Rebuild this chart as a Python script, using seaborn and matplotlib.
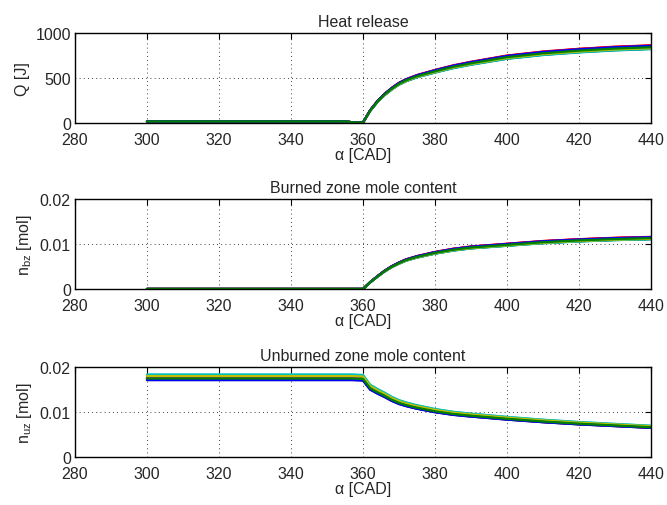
import numpy as np
import pandas as pd
import seaborn as sns
import matplotlib
matplotlib.use('Agg')
import matplotlib.pyplot as plt

# crank angle grid (CAD) and base curves
alpha = [300, 310, 320, 330, 340, 350, 355, 357, 360, 362, 364, 366, 368, 370,
         372, 375, 380, 385, 390, 400, 410, 420, 430, 440]
Q_base = [18, 18, 18, 18, 18, 18, 18, 8, 5, 140, 240, 320, 385, 440,
          480, 525, 580, 630, 670, 738, 782, 812, 835, 850]
nbz_base = [0, 0, 0, 0, 0, 0, 0, 0, 0, 0.0015, 0.0028, 0.0040, 0.0050, 0.0058,
            0.0065, 0.0072, 0.0081, 0.0088, 0.0093, 0.0099, 0.0105, 0.0109, 0.0112, 0.0114]
nuz_base = [0.0177, 0.0177, 0.0177, 0.0177, 0.0177, 0.0177, 0.0177, 0.0177, 0.0176,
            0.0155, 0.0146, 0.0138, 0.0129, 0.0122, 0.0117, 0.0111, 0.0103, 0.0097,
            0.0093, 0.0086, 0.0080, 0.0075, 0.0071, 0.0067]

# per-run spread (16 runs, MATLAB colour order)
q_scale = [0.99, 0.975, 1.015, 0.965, 1.01, 0.985, 0.97, 1.0, 0.98, 1.012,
           0.968, 0.995, 0.978, 1.003, 1.008, 0.99]
nbz_scale = [0.99, 0.975, 1.015, 0.97, 1.01, 0.985, 0.972, 1.0, 0.98, 1.012,
             0.968, 0.995, 0.978, 1.003, 1.008, 0.99]
nuz_scale = [0.985, 1.0, 0.97, 1.035, 0.975, 1.02, 0.965, 0.995, 1.01, 0.98,
             1.03, 0.99, 1.015, 0.975, 0.965, 0.985]

colors = ['#0000FF', '#008000', '#FF0000', '#00BFBF', '#BF00BF', '#BFBF00', '#404040']
runs = len(q_scale)
pal = [colors[i % 7] for i in range(runs)]

def long_df(base, scale):
    rows = []
    for r in range(runs):
        for a, v in zip(alpha, base):
            rows.append({'alpha': a, 'value': v * scale[r], 'run': r})
    return pd.DataFrame(rows)

sns.set_style('white')
plt.rcParams['font.family'] = ['Liberation Sans', 'DejaVu Sans']
plt.rcParams['mathtext.fontset'] = 'custom'
plt.rcParams['mathtext.rm'] = 'Liberation Sans'
fs = 11.5

fig = plt.figure(figsize=(6.67, 5.06), dpi=100)
left, width, h = 0.1124, 0.8636, 0.178
bottoms = [0.7549, 0.4269, 0.0949]

panels = [
    (Q_base, q_scale, 'Heat release', 'Q [J]', [0, 500, 1000], ['0', '500', '1000'], 1000),
    (nbz_base, nbz_scale, 'Burned zone mole content', r'n$_{\mathrm{bz}}$ [mol]',
     [0, 0.01, 0.02], ['0', '0.01', '0.02'], 0.02),
    (nuz_base, nuz_scale, 'Unburned zone mole content', r'n$_{\mathrm{uz}}$ [mol]',
     [0, 0.01, 0.02], ['0', '0.01', '0.02'], 0.02),
]

for b, (base, scale, title, ylab, yt, ytl, ymax) in zip(bottoms, panels):
    ax = fig.add_axes([left, b, width, h])
    df = long_df(base, scale)
    sns.lineplot(data=df, x='alpha', y='value', hue='run', palette=pal,
                 legend=False, estimator=None, linewidth=1.6, ax=ax)
    ax.set_xlim(280, 440)
    ax.set_ylim(0, ymax)
    ax.set_xticks(range(280, 441, 20))
    ax.set_yticks(yt)
    ax.set_yticklabels(ytl)
    ax.grid(True, color='black', linestyle=(0, (1, 4)), linewidth=0.6)
    ax.tick_params(direction='in', top=True, right=True, length=4, labelsize=fs,
                   color='black')
    ax.tick_params(axis='x', pad=6.5)
    ax.tick_params(axis='y', pad=3)
    for s in ax.spines.values():
        s.set_color('black')
        s.set_linewidth(1.0)
    ax.set_title(title, fontsize=fs, pad=5)
    ax.set_xlabel('α [CAD]', fontsize=fs, labelpad=0)
    ax.set_ylabel(ylab, fontsize=fs, labelpad=4)

fig.savefig('out.png', dpi=100)
